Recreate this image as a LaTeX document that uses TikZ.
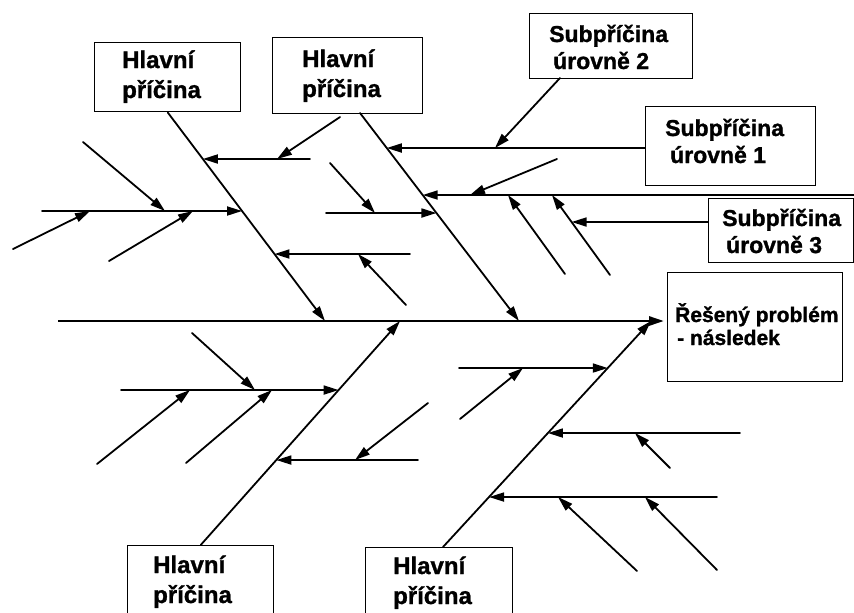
\documentclass[tikz,border=0pt]{standalone}
\usepackage{fontspec}
\setmainfont{Liberation Sans}[BoldFeatures={FakeBold=1.2}]
\usetikzlibrary{arrows.meta}
\begin{document}
\begin{tikzpicture}[x=1pt,y=-1pt,
  bone/.style={line width=1.8pt, line cap=round},
  spineline/.style={line width=2.8pt},
  tip/.style={-{Triangle[length=15pt,width=9pt]}},
  box/.style={draw, fill=white, line width=1.4pt, inner sep=0pt, anchor=north west},
  lbl/.style={font=\bfseries\fontsize{24}{30}\selectfont, align=left, inner sep=0pt, anchor=base west},
  sublbl/.style={font=\bfseries\fontsize{23}{27}\selectfont, align=left, inner sep=0pt, anchor=base west},
  problbl/.style={font=\bfseries\fontsize{21}{23}\selectfont, align=left, inner sep=0pt, anchor=base west},
]
\clip (0,0) rectangle (854,613);
\fill[white] (0,0) rectangle (854,613);

% ---- boxes ----
\node[box, minimum width=146pt, minimum height=69pt] (c1) at (94,42) {};
\node[box, minimum width=150pt, minimum height=76pt] (c2) at (272,37) {};
\node[box, minimum width=146pt, minimum height=90pt] (c3) at (127,545) {};
\node[box, minimum width=147pt, minimum height=90pt] (c4) at (365,547) {};
\node[box, minimum width=163pt, minimum height=65pt] (s2) at (529,13) {};
\node[box, minimum width=170pt, minimum height=79pt] (s1) at (645,106) {};
\node[box, minimum width=145pt, minimum height=64pt] (s3) at (708,198) {};
\node[box, minimum width=175pt, minimum height=109pt] (prob) at (667,272) {};

% ---- labels (anchored at the baseline of their last line) ----
\node[lbl] (c1t) at (122,98) {Hlavní\\příčina};
\node[lbl] (c2t) at (302,97) {Hlavní\\příčina};
\node[lbl] (c3t) at (153,603) {Hlavní\\příčina};
\node[lbl] (c4t) at (393,604) {Hlavní\\příčina};
\node[sublbl] (s2t) at (549,69) {Subpříčina\\\hspace*{4pt}úrovně 2};
\node[sublbl] (s1t) at (665,163) {Subpříčina\\\hspace*{5pt}úrovně 1};
\node[sublbl] (s3t) at (722,253) {Subpříčina\\\hspace*{4pt}úrovně 3};
\node[problbl] (probt) at (675,345) {Řešený problém\\\hspace*{2pt}- následek};

% ---- spine ----
\coordinate (s0) at (58,321);
\draw[spineline, tip] (s0) -- ([xshift=-3pt]s0 -| prob.west);

% ---- main causes ----
\coordinate (j1) at (325,321);
\coordinate (j2) at (519,321);
\coordinate (j3) at (400,321);
\coordinate (j4) at (651,321);
\coordinate (c2a) at (360,113);
\coordinate (c4a) at (443,547);
\draw[bone, tip] (c1.south) -- (j1);
\draw[bone, tip] (c2a) -- (j2);
\draw[bone, tip] (c3.north) -- (j3);
\draw[bone, tip] (c4a) -- (j4);

% ---- branches on the causes ----
\coordinate (b11) at (310,159);
\coordinate (b12) at (42,211);
\coordinate (b13) at (410,254);
\coordinate (b21) at (645,148);
\coordinate (b22) at (860,195);
\coordinate (b23) at (326,213);
\coordinate (b31) at (121,390);
\coordinate (b32) at (418,460);
\coordinate (b41) at (459,368);
\coordinate (b42) at (740,433);
\coordinate (b43) at (717,497);

\coordinate (k11) at (intersection of c1.south--j1 and b11--0,159);
\coordinate (k12) at (intersection of c1.south--j1 and b12--0,211);
\coordinate (k13) at (intersection of c1.south--j1 and b13--0,254);
\coordinate (k21) at (intersection of c2a--j2 and b21--0,148);
\coordinate (k22) at (intersection of c2a--j2 and b22--0,195);
\coordinate (k23) at (intersection of c2a--j2 and b23--0,213);
\coordinate (k31) at (intersection of c3.north--j3 and b31--0,390);
\coordinate (k32) at (intersection of c3.north--j3 and b32--0,460);
\coordinate (k41) at (intersection of c4a--j4 and b41--0,368);
\coordinate (k42) at (intersection of c4a--j4 and b42--0,433);
\coordinate (k43) at (intersection of c4a--j4 and b43--0,497);

\foreach \b/\k in {b11/k11,b12/k12,b13/k13,b21/k21,b22/k22,b23/k23,
                   b31/k31,b32/k32,b41/k41,b42/k42,b43/k43}
  \draw[bone, tip] (\b) -- (\k);

% ---- sub-branches ----
\foreach \i/\sx/\sy/\ex/\ey in {
    1/340/117/277/159,
    2/83/142/165/211, 3/13/249/90/211, 4/109/261/193/211,
    5/406/305/358/254,
    6/557/159/470/195, 7/565/274/508/195, 8/610/275/552/195,
    9/330/163/375/213,
    10/192/333/255/390, 11/97/464/190/390, 12/186/463/272/390,
    13/428/403/355/460,
    14/460/419/523/368,
    15/670/468/635/433,
    16/637/571/558/497, 17/717/570/645/497}
{
  \coordinate (u\i) at (\sx,\sy);
  \coordinate (v\i) at (\ex,\ey);
  \draw[bone, tip] (u\i) -- (v\i);
}

% level-2 cause from its box
\coordinate (s2a) at (560,78);
\coordinate (s2b) at (495,148);
\draw[bone, tip] (s2a) -- (s2b);

% level-3 cause from its box
\coordinate (s3a) at (s3.west |- 0,222);
\coordinate (s3b) at (intersection of u8--v8 and s3a--0,222);
\draw[bone, tip] (s3a) -- (s3b);
\end{tikzpicture}
\end{document}
